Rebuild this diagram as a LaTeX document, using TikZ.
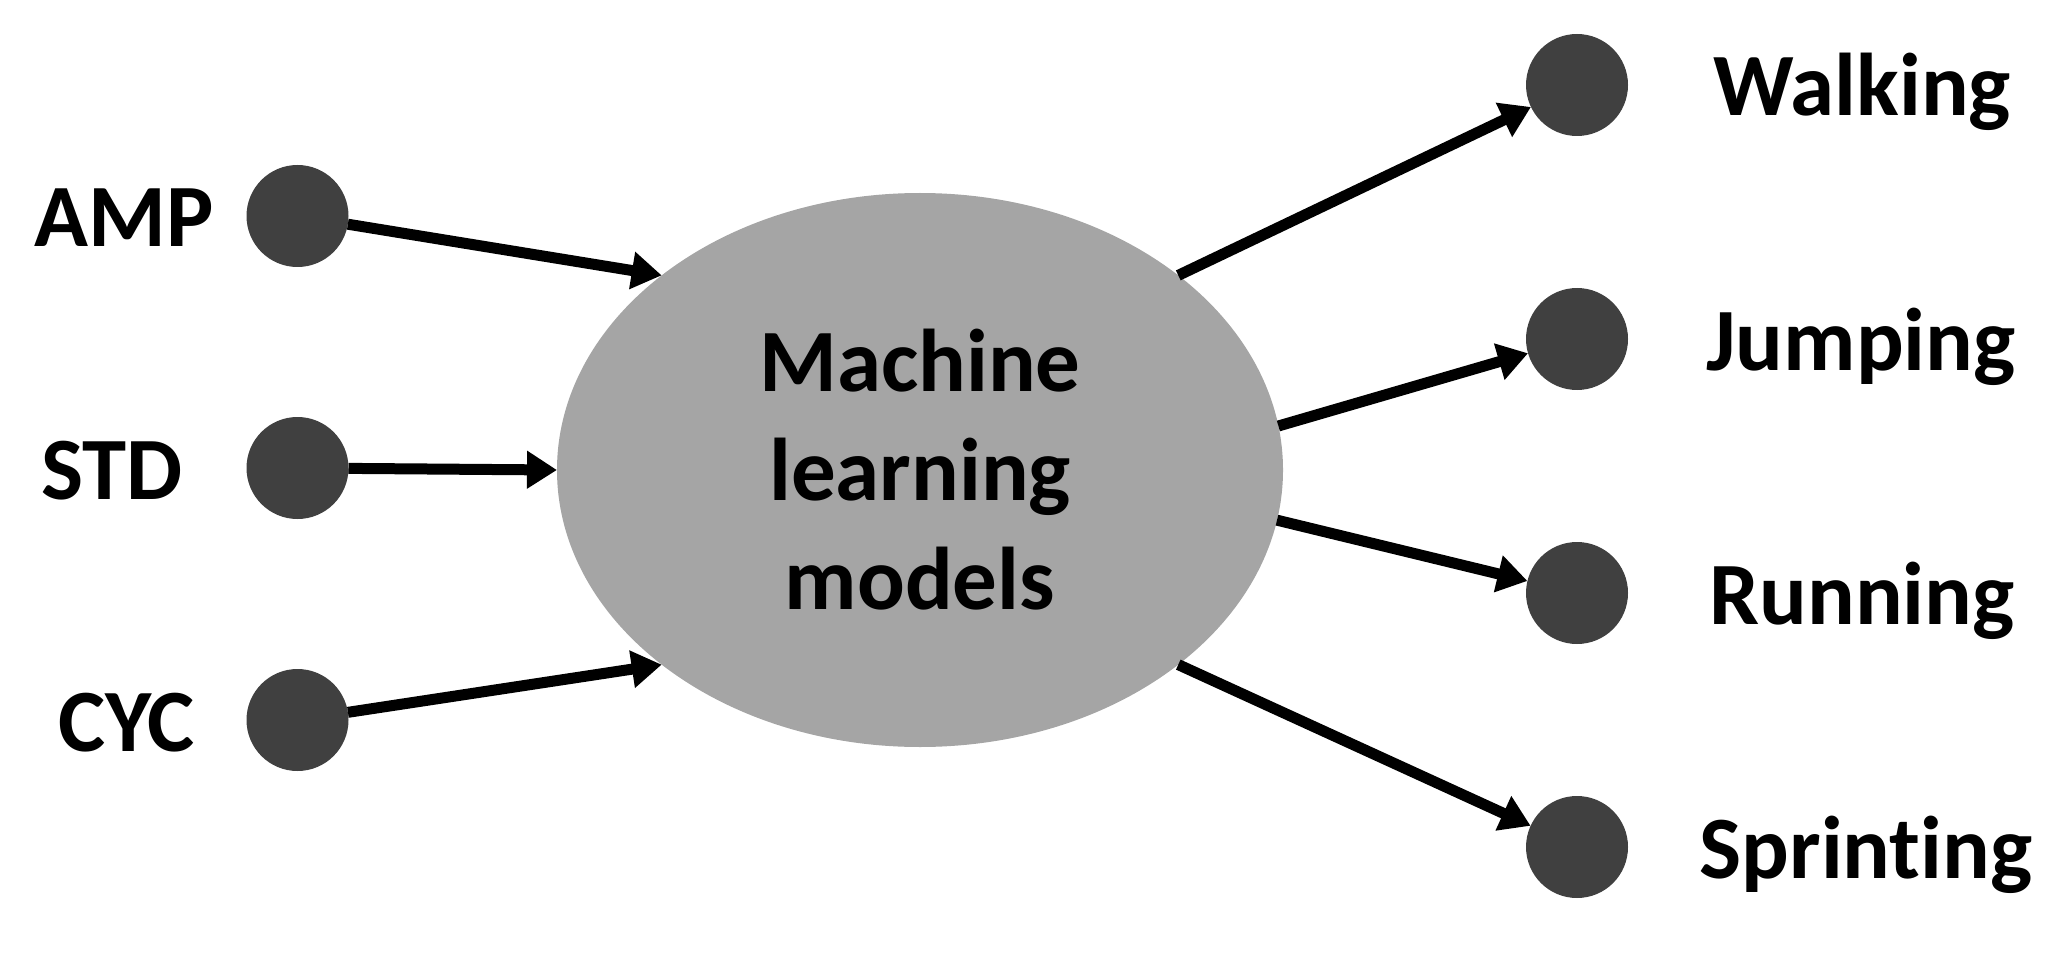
\documentclass[tikz,border=0pt]{standalone}
\usepackage{fontspec}
\setmainfont{Carlito}[Ligatures={NoCommon,NoContextual}]
\usetikzlibrary{shapes.geometric,arrows.meta}
\definecolor{dotgray}{HTML}{404040}
\definecolor{ellgray}{HTML}{A5A5A5}
\tikzset{
  dot/.style={circle, fill=dotgray, minimum size=102pt, inner sep=0pt, outer sep=0pt},
  lbl/.style={font=\fontsize{89}{110}\selectfont\bfseries, inner sep=0pt, anchor=base},
  arr/.style={line width=11pt, -{Triangle[length=30pt,width=36pt]}},
}
\begin{document}
\begin{tikzpicture}[x=1pt,y=-1pt]
\useasboundingbox (0,0) rectangle (2068,957);
\node[ellipse, fill=ellgray, minimum width=726pt, minimum height=554pt, inner sep=0pt, outer sep=0pt, align=center, font=\fontsize{89}{109}\selectfont\bfseries] (ml) at (920,470) {Machine\\learning\\models};
% inputs
\node[dot] (amp) at (297.5,216) {};
\node[dot] (std) at (297.5,468) {};
\node[dot] (cyc) at (297.5,720) {};
\node[lbl] (tamp) at (124,247) {AMP};
\node[lbl] (tstd) at (112,499) {STD};
\node[lbl] (tcyc) at (126.5,751) {CYC};
% outputs
\node[dot] (walk) at (1577,85) {};
\node[dot] (jump) at (1577,339) {};
\node[dot] (run) at (1577,593) {};
\node[dot] (sprint) at (1577,847) {};
\node[lbl] (twalk) at (1862,116) {Walking};
\node[lbl] (tjump) at (1861,370) {Jumping};
\node[lbl] (trun) at (1862,624) {Running};
\node[lbl] (tsprint) at (1866,878) {Sprinting};
% connectors
\draw[arr] (amp) -- (ml.143);
\draw[arr] (std) -- (ml.180);
\draw[arr] (cyc) -- (ml.217);
\draw[arr] (ml.37) -- (walk);
\draw[arr] (ml.7.5) -- (jump);
\draw[arr] (ml.-8) -- (run);
\draw[arr] (ml.-37) -- (sprint);
\end{tikzpicture}
\end{document}
